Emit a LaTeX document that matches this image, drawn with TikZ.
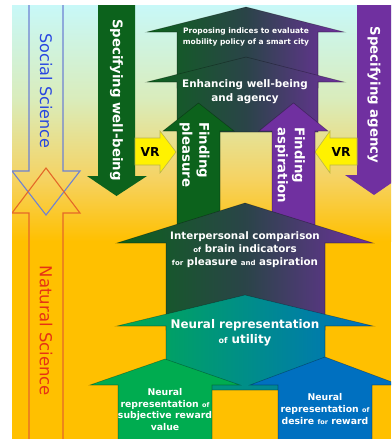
\documentclass[tikz,border=0pt]{standalone}
\usepackage{fontspec}
\setmainfont{DejaVu Sans}
\definecolor{sky}{RGB}{200,248,248}
\definecolor{pale}{RGB}{218,236,186}
\definecolor{sand}{RGB}{246,210,96}
\definecolor{orng}{RGB}{255,192,0}
\definecolor{dkgreen}{RGB}{12,98,28}
\definecolor{midtone}{RGB}{42,68,72}
\definecolor{purp}{RGB}{112,48,160}
\definecolor{ltgreen}{RGB}{0,172,80}
\definecolor{blu}{RGB}{0,112,192}
\definecolor{ssblue}{RGB}{40,70,225}
\definecolor{ssline}{RGB}{110,130,210}
\definecolor{nsred}{RGB}{230,50,20}
\definecolor{nsline}{RGB}{228,104,40}
\newcommand\smw[2]{{\fontsize{#1}{#1}\selectfont #2}}

\begin{document}
\begin{tikzpicture}[x=1pt,y=-1pt,
  edge/.style={draw=black,draw opacity=.3,line width=.6pt},
  gpshade/.style={left color=dkgreen,right color=purp,middle color=midtone},
  vrarrow/.style={fill=yellow,draw=olive!60,line width=.6pt},
  wtxt/.style={text=white,inner sep=0pt,align=center},
  vtxt/.style={inner sep=0pt,rotate=-90}]
\useasboundingbox (0,0) rectangle (391,439);
\begin{scope}
\clip (12,5) rectangle (391,439);
\fill[orng] (12,240) rectangle (391,439);
\shade[top color=sky,bottom color=pale] (12,5) rectangle (391,101);
\shade[top color=pale,bottom color=sand] (12,100) rectangle (391,181);
\shade[top color=sand,bottom color=orng] (12,180) rectangle (391,241);

\draw[ssline,line width=1.1pt] (29,0) -- (29,171) -- (12,171) -- (46,215) -- (80,171) -- (63,171) -- (63,0);
\draw[nsline,line width=1.1pt] (29,445) -- (29,213) -- (12,213) -- (46,168) -- (80,213) -- (63,213) -- (63,445);
\node[vtxt,text=ssblue,font=\fontsize{16}{18}\selectfont] (social) at (46,91) {Social Science};
\node[vtxt,text=nsred,font=\fontsize{16.5}{18}\selectfont] (natural) at (46,331) {Natural Science};

\fill[dkgreen] (98,0) -- (135,0) -- (135,176) -- (147,176) -- (116.5,196) -- (87,176) -- (98,176) -- cycle;
\fill[purp] (357,0) -- (395,0) -- (395,175) -- (403,175) -- (374,195) -- (345,175) -- (357,175) -- cycle;
\node[vtxt,wtxt,font=\bfseries\fontsize{13.3}{16}\selectfont] (wellbeing) at (116.5,100) {Specifying well-being};
\node[vtxt,wtxt,font=\bfseries\fontsize{13.3}{16}\selectfont] (agency) at (374,95) {Specifying agency};

\path[vrarrow] (135,138) -- (160,138) -- (160,131) -- (176,152) -- (160,173) -- (160,165) -- (135,165) -- cycle;
\path[vrarrow] (357,138) -- (330,138) -- (330,131) -- (315,152) -- (330,173) -- (330,165) -- (357,165) -- cycle;
\node[inner sep=0pt,font=\bfseries\fontsize{12.3}{14}\selectfont] (vrleft) at (150,152) {VR};
\node[inner sep=0pt,font=\bfseries\fontsize{12.3}{14}\selectfont] (vrright) at (341,152) {VR};

\path[edge,gpshade] (147,32) -- (246,7) -- (344,32) -- (318,32) -- (318,88) -- (177,88) -- (177,32) -- cycle;
\path[edge,gpshade] (147,82) -- (246,57) -- (344,82) -- (318,82) -- (318,132) -- (177,132) -- (177,82) -- cycle;
\path[edge,fill=dkgreen] (163,131) -- (198.5,103) -- (234,131) -- (220,131) -- (220,250) -- (177,250) -- (177,131) -- cycle;
\path[edge,fill=purp] (259,131) -- (293.5,103) -- (328,131) -- (315,131) -- (315,250) -- (272,250) -- (272,131) -- cycle;
\node[wtxt,font=\bfseries\fontsize{7.5}{10.5}\selectfont] (indices) at (246,37) {Proposing indices to evaluate\\mobility policy of a smart city};
\node[wtxt,font=\bfseries\fontsize{10.4}{13.5}\selectfont] (enhance) at (245,91.5) {Enhancing well-being\\and agency};
\node[vtxt,wtxt,align=left,anchor=west,font=\bfseries\fontsize{13.3}{17}\selectfont] (pleasure) at (194.5,122) {Finding\\pleasure};
\node[vtxt,wtxt,align=left,anchor=west,font=\bfseries\fontsize{13.3}{17}\selectfont] (aspiration) at (290,127) {Finding\\aspiration};

\path[edge,gpshade] (117,243) -- (245,203) -- (373,243) -- (325,243) -- (325,330) -- (166,330) -- (166,243) -- cycle;
\path[edge,left color=ltgreen,right color=blu] (117,326) -- (245,295) -- (373,326) -- (325,326) -- (325,390) -- (166,390) -- (166,326) -- cycle;
\path[edge,fill=ltgreen] (90,385) -- (165,359) -- (240,385) -- (212,385) -- (212,445) -- (118,445) -- (118,385) -- cycle;
\path[edge,fill=blu] (250,385) -- (325,357) -- (400,385) -- (372,385) -- (372,445) -- (278,445) -- (278,385) -- cycle;
\node[wtxt,font=\bfseries\fontsize{10.3}{13}\selectfont] (compare) at (245,250) {Interpersonal comparison\\\smw{7}{of} brain indicators\\\smw{7}{for} pleasure \smw{7}{and} aspiration};
\node[wtxt,font=\bfseries\fontsize{11.9}{15}\selectfont] (utility) at (245,332.5) {Neural representation\\\smw{8}{of} utility};
\node[wtxt,font=\bfseries\fontsize{9.3}{11.7}\selectfont] (subjective) at (165,409.5) {Neural\\representation \smw{6.5}{of}\\subjective reward\\value};
\node[wtxt,font=\bfseries\fontsize{9.3}{11.7}\selectfont] (desire) at (325,409) {Neural\\representation \smw{6.5}{of}\\desire \smw{6.5}{for} reward};
\end{scope}
\end{tikzpicture}
\end{document}
